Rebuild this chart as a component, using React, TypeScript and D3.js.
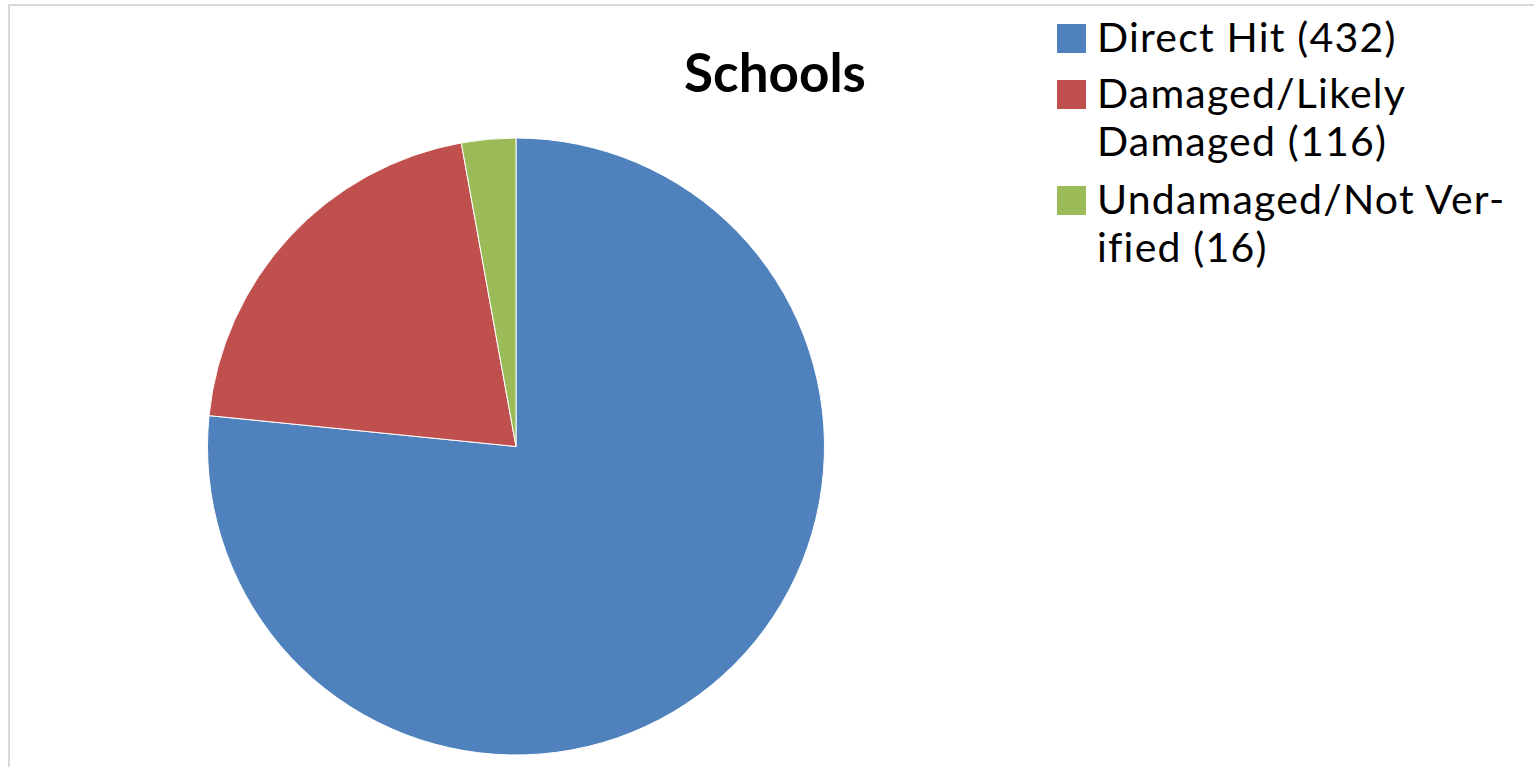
import React from "react";
import * as d3 from "d3";

const categories = ["Direct Hit (432)", "Damaged/Likely Damaged (116)", "Undamaged/Not Verified (16)"];
const values = [432, 116, 16];
const colors = ["#4F81BD", "#C0504D", "#9BBB59"];
const legendLines = [["Direct Hit (432)"], ["Damaged/Likely", "Damaged (116)"], ["Undamaged/Not Ver-", "ified (16)"]];
const title = "Schools";

export default function App() {
  const W = 1534, H = 767;
  const cx = 516, cy = 446.5, r = 308.5;
  const pie = d3.pie<number>().sort(null).value((d) => d);
  const arcs = pie(values);
  const arcGen = d3.arc<d3.PieArcDatum<number>>().innerRadius(0).outerRadius(r);
  const font = "Lato, Carlito, 'Liberation Sans', sans-serif";
  const legendX = 1057;
  const lineH = 48;
  const blockStarts = [52, 108, 214];
  return (
    <svg width={W} height={H} style={{ position: "absolute", left: 0, top: 0, background: "#fff" }}>
      <rect x={9} y={5} width={W + 20} height={H + 20} fill="#fff" stroke="#d9d9d9" strokeWidth={2} />
      <text x={775} y={92} textAnchor="middle" fontFamily={font} fontWeight={700} fontSize={53} fill="#000">
        {title}
      </text>
      <g transform={`translate(${cx},${cy})`}>
        {arcs.map((a, i) => (
          <path key={categories[i]} d={arcGen(a) || ""} fill={colors[i]} stroke="#fff" strokeWidth={1} />
        ))}
      </g>
      {legendLines.map((lines, i) => (
        <g key={i}>
          <rect x={legendX} y={blockStarts[i] - 28} width={29} height={29} fill={colors[i]} />
          <text fontFamily={font} fontSize={41} letterSpacing={1.2} fill="#000">
            {lines.map((l, j) => (
              <tspan key={j} x={1097} y={blockStarts[i] + j * lineH}>
                {l}
              </tspan>
            ))}
          </text>
        </g>
      ))}
    </svg>
  );
}
